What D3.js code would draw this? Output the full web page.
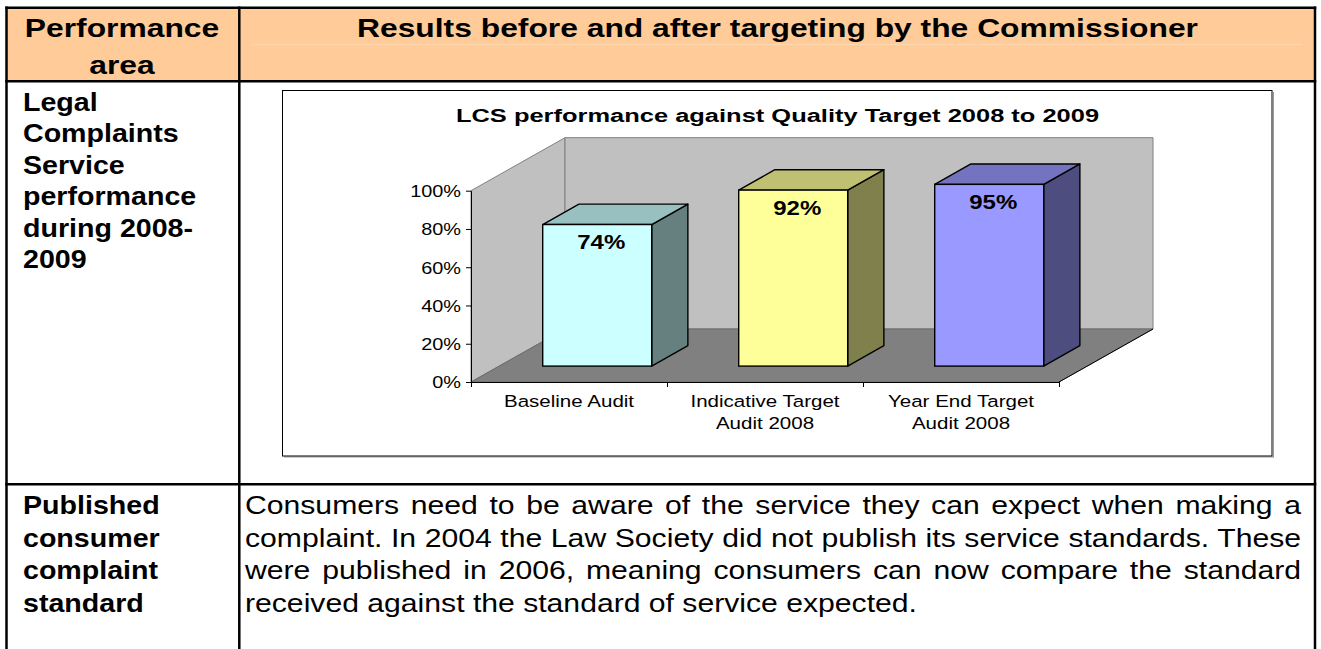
<!DOCTYPE html>
<html>
<head>
<meta charset="utf-8">
<script src="https://cdn.jsdelivr.net/npm/d3@7"></script>
<style>
  html, body { margin: 0; padding: 0; background: #fff; }
  svg { display: block; }
</style>
</head>
<body>
<script>
// DATA
const headerLabels = [["Performance", "area"], ["Results before and after targeting by the Commissioner"]];
const areaLabels = [
  ["Legal", "Complaints", "Service", "performance", "during 2008-", "2009"],
  ["Published", "consumer", "complaint", "standard"]
];
const bodyLines = [
  "Consumers need to be aware of the service they can expect when making a",
  "complaint. In 2004 the Law Society did not publish its service standards. These",
  "were published in 2006, meaning consumers can now compare the standard",
  "received against the standard of service expected."
];
const chartTitle = "LCS performance against Quality Target 2008 to 2009";
const categories = [["Baseline Audit"], ["Indicative Target", "Audit 2008"], ["Year End Target", "Audit 2008"]];
const scores = [0.74, 0.92, 0.95];
const yTicks = [0, 0.2, 0.4, 0.6, 0.8, 1];

// colours per bar: front, top, side
const barFill = [
  ["#CCFFFF", "#99C0C0", "#668080"],
  ["#FFFF99", "#C0C073", "#80804D"],
  ["#9999FF", "#7373C0", "#4D4D80"]
];

const FONT = "'Liberation Sans', Arial, Helvetica, sans-serif";
const W = 1321, H = 649;

const svg = d3.select("body").append("svg").attr("width", W).attr("height", H);

// text is stretched sideways in the source, so every label gets a scaleX
function label(g, str, x, y, size, k, weight, anchor) {
  return g.append("text")
    .attr("transform", `translate(${x},${y}) scale(${k},1)`)
    .attr("text-anchor", anchor || "start")
    .attr("font-family", FONT)
    .attr("font-size", size)
    .attr("font-weight", weight || "normal")
    .attr("fill", "#000")
    .text(str);
}

// TABLE
const tb = { left: 6.5, right: 1315, top: 7.8, col: 239.3, head: 81.3, row: 484.3, bottom: H + 10 };
const table = svg.append("g");

table.append("rect")
  .attr("x", tb.left).attr("y", tb.top)
  .attr("width", tb.right - tb.left).attr("height", tb.head - tb.top)
  .attr("fill", "#FFCC99");
table.append("line")
  .attr("x1", 253).attr("x2", 1302).attr("y1", 44.5).attr("y2", 44.5)
  .attr("stroke", "#FFD8B0").attr("stroke-width", 1);

const borders = [
  [tb.left, tb.top, tb.right, tb.top],
  [tb.left, tb.head, tb.right, tb.head],
  [tb.left, tb.row, tb.right, tb.row],
  [tb.left, tb.top, tb.left, tb.bottom],
  [tb.col, tb.top, tb.col, tb.bottom],
  [tb.right, tb.top, tb.right, tb.bottom]
];
table.selectAll("line.border").data(borders).join("line")
  .attr("class", "border")
  .attr("x1", d => d[0]).attr("y1", d => d[1])
  .attr("x2", d => d[2]).attr("y2", d => d[3])
  .attr("stroke", "#000").attr("stroke-width", 2.5)
  .attr("stroke-linecap", "square");

// header
headerLabels[0].forEach((s, i) => label(table, s, 122, 37.3 + i * 36.7, 26.5, 1.2, "bold", "middle"));
headerLabels[1].forEach((s, i) => label(table, s, 777.5, 37.3 + i * 36.7, 26.5, 1.2, "bold", "middle"));

// first column
areaLabels[0].forEach((s, i) => label(table, s, 23, 111 + i * 31.4, 26, 1.1, "bold"));
areaLabels[1].forEach((s, i) => label(table, s, 23, 514 + i * 32.7, 26, 1.1, "bold"));

// body paragraph, justified
const bodyK = 1.16, bodyX = 245, bodyW = 1056;
bodyLines.forEach((s, i) => {
  const t = label(table, s, bodyX, 514 + i * 32.7, 26, bodyK);
  if (i < bodyLines.length - 1) {
    const w = t.node().getComputedTextLength();
    const gaps = (s.match(/ /g) || []).length;
    const extra = (bodyW / bodyK - w) / gaps;
    t.style("word-spacing", extra + "px");
  }
});

// CHART
const chart = svg.append("g");

chart.append("rect")
  .attr("x", 1273).attr("y", 92).attr("width", 1).attr("height", 365.5)
  .attr("fill", "#9a9a9a");
chart.append("rect")
  .attr("x", 284).attr("y", 456.5).attr("width", 990).attr("height", 1)
  .attr("fill", "#9a9a9a");
chart.append("rect")
  .attr("x", 282.5).attr("y", 90.5).attr("width", 989.5).attr("height", 365.5)
  .attr("fill", "#fff").attr("stroke", "#000").attr("stroke-width", 1);

label(chart, chartTitle, 777.5, 121.5, 18.5, 1.376, "bold", "middle");

const x = d3.scaleBand()
  .domain(d3.range(categories.length))
  .range([471, 1059])
  .paddingInner(0.444)
  .paddingOuter(0.222);
const y = d3.scaleLinear().domain([0, 1]).range([382, 190.7]);

const DX = 94, DY = -53;       // depth of the plot box
const z0 = 0.3, z1 = 0.685;    // bar depth within box
const [x0, x1] = x.range();
const line = d3.line();

const sideWall = [[x0, y(0)], [x0, y(1)], [x0 + DX, y(1) + DY], [x0 + DX, y(0) + DY]];
const backWall = [[x0 + DX, y(1) + DY], [x1 + DX, y(1) + DY], [x1 + DX, y(0) + DY], [x0 + DX, y(0) + DY]];
const floor = [[x0, y(0)], [x0 + DX, y(0) + DY], [x1 + DX, y(0) + DY], [x1, y(0)]];

chart.append("path").attr("d", line(sideWall) + "Z")
  .attr("fill", "#C0C0C0").attr("stroke", "#808080").attr("stroke-width", 1);
chart.append("path").attr("d", line(backWall) + "Z")
  .attr("fill", "#C0C0C0").attr("stroke", "#808080").attr("stroke-width", 1);
chart.append("path").attr("d", line(floor) + "Z")
  .attr("fill", "#808080").attr("stroke", "#6a6a6a").attr("stroke-width", 1);
chart.append("path").attr("d", line([[x1, y(0)], [x1 + DX, y(0) + DY]]))
  .attr("fill", "none").attr("stroke", "#000").attr("stroke-width", 1);

// bars
const bars = chart.selectAll("g.bar").data(scores).join("g").attr("class", "bar");
bars.each(function (v, i) {
  const g = d3.select(this);
  const fx0 = x(i) + z0 * DX, fx1 = fx0 + x.bandwidth();
  const ft = y(v) + z0 * DY, fb = y(0) + z0 * DY;
  const ddx = (z1 - z0) * DX, ddy = (z1 - z0) * DY;
  const [front, top, side] = barFill[i];
  g.append("path")
    .attr("d", line([[fx1, ft], [fx1 + ddx, ft + ddy], [fx1 + ddx, fb + ddy], [fx1, fb]]) + "Z")
    .attr("fill", side).attr("stroke", "#000").attr("stroke-width", 1.4).attr("stroke-linejoin", "round");
  g.append("path")
    .attr("d", line([[fx0, ft], [fx0 + ddx, ft + ddy], [fx1 + ddx, ft + ddy], [fx1, ft]]) + "Z")
    .attr("fill", top).attr("stroke", "#000").attr("stroke-width", 1.4).attr("stroke-linejoin", "round");
  g.append("rect")
    .attr("x", fx0).attr("y", ft).attr("width", fx1 - fx0).attr("height", fb - ft)
    .attr("fill", front).attr("stroke", "#000").attr("stroke-width", 1.4);
  label(g, d3.format(".0%")(v), (fx0 + fx1) / 2 + 4, ft + 24.5, 20, 1.2, "bold", "middle");
});

// y axis
const yAxis = chart.append("g")
  .attr("transform", `translate(${x0},0)`)
  .call(d3.axisLeft(y).tickValues(yTicks).tickSize(5).tickSizeOuter(0).tickFormat(d3.format(".0%")));
yAxis.attr("font-family", FONT).attr("font-size", 16.3);
yAxis.select(".domain").attr("stroke", "#000");
yAxis.selectAll(".tick line").attr("stroke", "#000");
yAxis.selectAll(".tick text")
  .attr("x", null).attr("dy", null)
  .attr("fill", "#000")
  .attr("transform", "translate(-10,5.9) scale(1.22,1)");

// category axis: ticks on the band edges
const xEdge = d3.scaleLinear().domain([0, categories.length]).range(x.range());
const xAxis = chart.append("g")
  .attr("transform", `translate(0,${y(0)})`)
  .call(d3.axisBottom(xEdge).tickValues(d3.range(categories.length + 1)).tickSize(5).tickSizeOuter(0).tickFormat(""));
xAxis.select(".domain").attr("stroke", "#000");
xAxis.selectAll(".tick line").attr("stroke", "#000");

categories.forEach((lines, i) => {
  lines.forEach((s, j) => label(chart, s, x(i) + x.bandwidth() / 2, 407 + j * 21.5, 16.3, 1.26, "normal", "middle"));
});
</script>
</body>
</html>
